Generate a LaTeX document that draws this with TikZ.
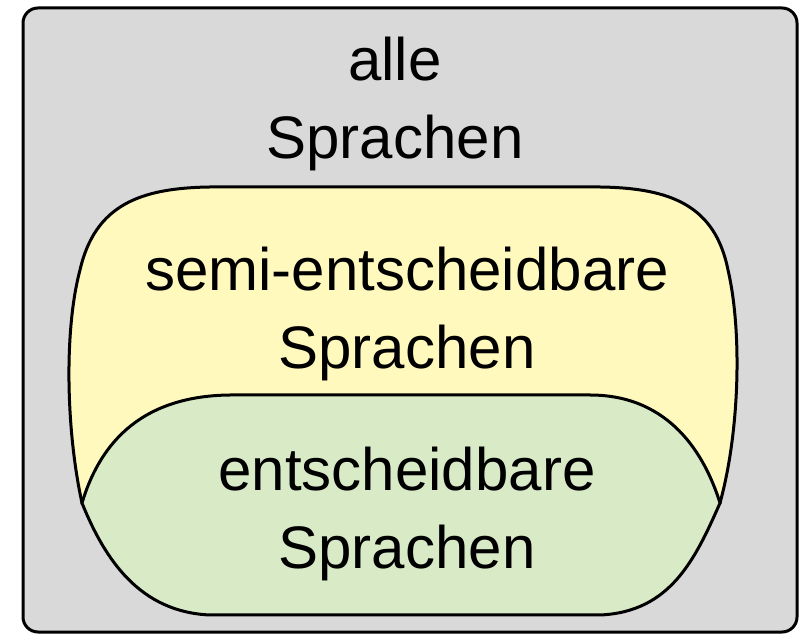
\documentclass[tikz,border=0pt]{standalone}
\usepackage{fontspec}
\setmainfont{Liberation Sans}
\usepackage{tikz}
\tikzset{>=latex}
\definecolor{allegrau}{RGB}{217,217,217}
\definecolor{semigelb}{RGB}{255,249,190}
\definecolor{entgruen}{RGB}{217,234,199}
\tikzset{
  menge/.style={draw=black, line width=1.5pt},
  mengentext/.style={align=center, inner sep=0pt,
    font=\fontsize{30pt}{39pt}\selectfont}
}

\begin{document}
\begin{tikzpicture}[x=0.5pt, y=-0.5pt]
    \useasboundingbox (0,0) rectangle (803,635);

    \coordinate (a0) at (23, 8);
    \coordinate (a1) at (797, 632);

    \draw [menge, fill=allegrau, rounded corners=7.5pt] (a0) rectangle (a1);

    \coordinate (l) at (82, 503);
    \coordinate (r) at (720, 503);
    \coordinate (s1) at (80, 270);
    \coordinate (s2) at (210, 187);
    \coordinate (s3) at (600, 187);
    \coordinate (s4) at (728, 270);

    \draw [menge, fill=semigelb] (l) .. controls (66, 430) and (64, 330) .. (s1)
      .. controls (95, 205) and (140, 188) .. (s2) -- (s3)
      .. controls (670, 188) and (715, 205) .. (s4)
      .. controls (742, 330) and (740, 430) .. (r) -- cycle;

    \coordinate (e1) at (230, 395);
    \coordinate (e2) at (590, 395);
    \coordinate (e3) at (600, 615);
    \coordinate (e4) at (210, 615);

    \draw [menge, fill=entgruen] (l) .. controls (98, 450) and (135, 396) .. (e1) -- (e2)
      .. controls (670, 395) and (705, 455) .. (r)
      .. controls (695, 560) and (670, 612) .. (e3) -- (e4)
      .. controls (140, 612) and (105, 560) .. (l) -- cycle;

    \node [mengentext] (alle) at (395, 103.5) {alle\\Sprachen};
    \node [mengentext] (semi) at (407, 313.5) {semi-entscheidbare\\Sprachen};
    \node [mengentext] (ent) at (407, 513.5) {entscheidbare\\Sprachen};
  \end{tikzpicture}
\end{document}
